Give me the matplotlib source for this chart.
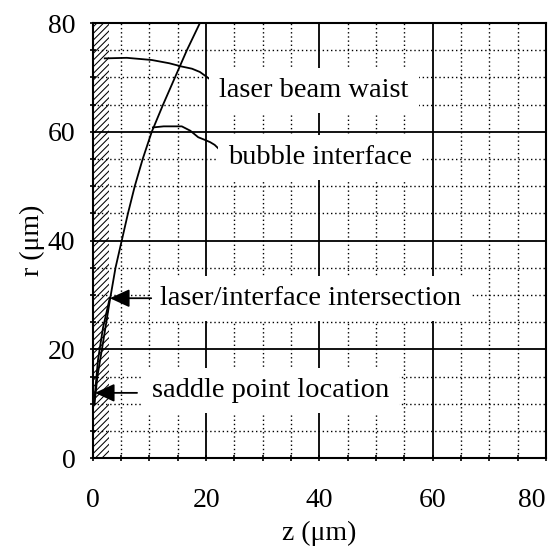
import matplotlib
matplotlib.use("Agg")
import matplotlib.pyplot as plt
from matplotlib.ticker import MultipleLocator

plt.rcParams['font.family'] = ['Liberation Serif', 'DejaVu Serif']
plt.rcParams['hatch.linewidth'] = 0.75

# Data
laser_z = [0.3, 0.8, 1.6, 3.0, 4.0, 5.1, 6.2, 7.4, 8.8, 10.4, 12.4, 14.5, 16.6, 18.9, 20.0]
laser_r = [10.0, 15.0, 20.0, 29.0, 35.0, 40.0, 45.0, 50.0, 55.0, 60.0, 65.0, 70.0, 75.0, 80.0, 82.0]

bubble_low_z = [0.3, 0.9, 1.8, 3.0]
bubble_low_r = [11.0, 18.0, 24.0, 29.5]

waist_lead_z = [2.1, 6.0, 10.4, 13.5, 15.7, 17.5, 18.9, 20.5, 22.1]
waist_lead_r = [73.5, 73.6, 73.2, 72.6, 72.0, 71.6, 71.0, 69.8, 68.4]

bubble_lead_z = [10.6, 12.5, 15.7, 17.2, 18.6, 19.8, 20.7, 21.5, 22.1, 23.7]
bubble_lead_r = [60.8, 61.0, 61.0, 60.2, 59.0, 58.5, 58.1, 57.6, 57.0, 55.2]

hatch_z = [0.0, 2.8]

x_ticks = [0, 20, 40, 60, 80]
y_ticks = [0, 20, 40, 60, 80]
x_tick_labels = ['0', '20', '40', '60', '80']
y_tick_labels = ['0', '20', '40', '60', '80']

labels = {
    "laser beam waist": (22.3, 67.6),
    "bubble interface": (23.9, 55.2),
    "laser/interface intersection": (11.8, 29.4),
    "saddle point location": (10.4, 12.4),
}
arrows = [
    ((3.0, 29.4), (10.3, 29.4)),
    ((0.35, 12.0), (7.8, 12.0)),
]

fig = plt.figure(figsize=(5.56, 5.48), dpi=100)
ax = fig.add_axes([0.167, 0.164, 0.815, 0.794])
ax.set_xlim(0, 80)
ax.set_ylim(0, 80)

ax.set_xticks(x_ticks, x_tick_labels)
ax.set_yticks(y_ticks, y_tick_labels)
ax.xaxis.set_minor_locator(MultipleLocator(5))
ax.yaxis.set_minor_locator(MultipleLocator(5))
ax.grid(which='minor', color='black', linestyle=(0, (1, 2)), linewidth=1.0, zorder=0)
ax.grid(which='major', color='black', linestyle='-', linewidth=1.3, zorder=0)
ax.set_axisbelow(True)

for s in ax.spines.values():
    s.set_linewidth(1.5)

ax.tick_params(which='both', direction='inout', length=5, width=1.2,
               labelsize=20, colors='black')
ax.tick_params(axis='x', which='major', pad=19)
ax.tick_params(axis='y', which='major', pad=10)

for lab in ax.get_xticklabels():
    if lab.get_text() == '80':
        lab.set_horizontalalignment('right')

ax.fill_betweenx([0, 80], hatch_z[0], hatch_z[1], facecolor='none',
                 edgecolor='black', hatch='/////', linewidth=0, zorder=1)

ax.plot(laser_z, laser_r, color='black', linewidth=1.3, zorder=3)
ax.plot(bubble_low_z, bubble_low_r, color='black', linewidth=1.3, zorder=3)
ax.plot(waist_lead_z, waist_lead_r, color='black', linewidth=1.3, zorder=3)
ax.plot(bubble_lead_z, bubble_lead_r, color='black', linewidth=1.3, zorder=3)

for txt, (x, y) in labels.items():
    ax.text(x, y, txt, fontsize=20.5, ha='left', va='center', zorder=4,
            bbox=dict(facecolor='white', edgecolor='none', boxstyle='square,pad=0.35'))

for tip, tail in arrows:
    ax.annotate('', xy=tip, xytext=tail, zorder=5,
                arrowprops=dict(arrowstyle='-|>,head_length=1.2,head_width=0.55',
                                color='black', linewidth=1.3, shrinkA=0, shrinkB=0))

ax.set_xlabel('z (μm)', fontsize=20, labelpad=6)
ax.set_ylabel('r (μm)', fontsize=20, labelpad=2)

fig.savefig('out.png', dpi=100)
